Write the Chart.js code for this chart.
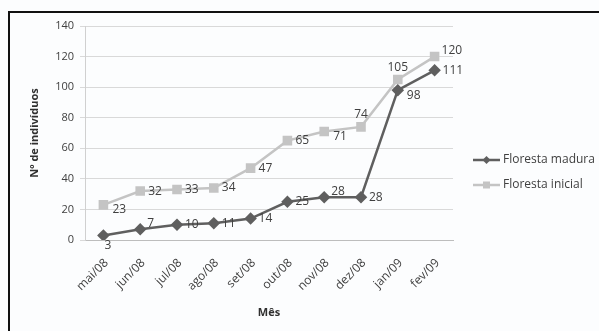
<!DOCTYPE html>
<html>
<head>
<meta charset="utf-8">
<script src="https://cdn.jsdelivr.net/npm/chart.js@4/dist/chart.umd.min.js"></script>
<style>
  html, body { margin: 0; padding: 0; background: #fcfdfe; }
  #wrap { position: relative; width: 599px; height: 331px; overflow: hidden; }
  #frame { position: absolute; left: 8px; top: 11px; width: 700px; height: 400px;
           border-top: 2px solid #111; border-left: 2px solid #111; box-sizing: border-box; }
  canvas { position: absolute; left: 0; top: 0; }
</style>
</head>
<body>
<div id="wrap">
  <div id="frame"></div>
  <canvas id="c" width="599" height="331"></canvas>
</div>
<script>
// Monthly counts of individuals per forest type
const months = ['mai/08', 'jun/08', 'jul/08', 'ago/08', 'set/08', 'out/08', 'nov/08', 'dez/08', 'jan/09', 'fev/09'];
const florestaMadura = [3, 7, 10, 11, 14, 25, 28, 28, 98, 111];
const florestaInicial = [23, 32, 33, 34, 47, 65, 71, 74, 105, 120];
const yTicks = [0, 20, 40, 60, 80, 100, 120, 140];

// where each value label sits relative to its marker
const maduraLabelPos = ['below', 'rightUp', 'right', 'right', 'right', 'right', 'rightUp', 'right', 'rightDown', 'right'];
const inicialLabelPos = ['rightDown', 'right', 'right', 'right', 'right', 'right', 'rightDown', 'above', 'above', 'rightUp'];

const FONT = '"Open Sans", "Liberation Sans", sans-serif';

const valueLabels = {
  id: 'valueLabels',
  afterDatasetsDraw(chart) {
    const ctx = chart.ctx;
    ctx.save();
    ctx.font = '12px ' + FONT;
    ctx.fillStyle = '#404040';
    chart.data.datasets.forEach((ds, i) => {
      const meta = chart.getDatasetMeta(i);
      meta.data.forEach((pt, j) => {
        const pos = ds.labelPos[j];
        let x = pt.x, y = pt.y;
        ctx.textAlign = 'left';
        ctx.textBaseline = 'middle';
        if (pos === 'right') { x += 8; }
        else if (pos === 'rightUp') { x += 7; y -= 6; }
        else if (pos === 'rightDown') { x += 9; y += 5; }
        else if (pos === 'above') { ctx.textAlign = 'center'; y -= 12; }
        else if (pos === 'below') { ctx.textAlign = 'left'; x += 1; y += 10; }
        ctx.fillText(String(ds.data[j]), x, y);
      });
    });
    ctx.restore();
  }
};

const sideLegend = {
  id: 'sideLegend',
  afterDraw(chart) {
    const ctx = chart.ctx;
    ctx.save();
    ctx.font = '12px ' + FONT;
    ctx.fillStyle = '#404040';
    ctx.textBaseline = 'middle';
    const rows = [160, 185];
    chart.data.datasets.forEach((ds, i) => {
      const y = rows[i];
      const x0 = 473, x1 = 500;
      ctx.strokeStyle = ds.borderColor;
      ctx.lineWidth = ds.borderWidth;
      ctx.beginPath(); ctx.moveTo(x0, y); ctx.lineTo(x1, y); ctx.stroke();
      ctx.fillStyle = ds.pointBackgroundColor;
      const cx = (x0 + x1) / 2;
      if (ds.pointStyle === 'rectRot') {
        ctx.beginPath();
        ctx.moveTo(cx, y - 4); ctx.lineTo(cx + 4, y); ctx.lineTo(cx, y + 4); ctx.lineTo(cx - 4, y);
        ctx.closePath(); ctx.fill();
      } else {
        ctx.fillRect(cx - 3.5, y - 3.5, 7, 7);
      }
      ctx.fillStyle = '#404040';
      ctx.textAlign = 'left';
      ctx.fillText(ds.label, 503, y);
    });
    ctx.restore();
  }
};

new Chart(document.getElementById('c'), {
  type: 'line',
  data: {
    labels: months,
    datasets: [
      {
        label: 'Floresta madura',
        data: florestaMadura,
        labelPos: maduraLabelPos,
        borderColor: '#5f5f5f',
        backgroundColor: '#5f5f5f',
        pointBackgroundColor: '#5f5f5f',
        pointBorderColor: '#5f5f5f',
        borderWidth: 2.5,
        pointStyle: 'rectRot',
        pointRadius: 4.5,
        tension: 0
      },
      {
        label: 'Floresta inicial',
        data: florestaInicial,
        labelPos: inicialLabelPos,
        borderColor: '#c4c4c4',
        backgroundColor: '#c4c4c4',
        pointBackgroundColor: '#c4c4c4',
        pointBorderColor: '#c4c4c4',
        borderWidth: 2.5,
        pointStyle: 'rect',
        pointRadius: 5,
        tension: 0
      }
    ]
  },
  options: {
    responsive: false,
    animation: false,
    layout: { padding: { left: 28, right: 146, top: 26, bottom: 12 } },
    plugins: { legend: { display: false }, tooltip: { enabled: false } },
    scales: {
      x: {
        offset: true,
        grid: { display: false, drawTicks: true, tickLength: 4 },
        border: { color: '#bdbdbd', width: 1 },
        ticks: { minRotation: 45, maxRotation: 45, color: '#404040', font: { family: FONT, size: 12 }, padding: 12, labelOffset: 3 },
        title: { display: true, text: 'Mês', color: '#303030', font: { family: FONT, size: 11, weight: 'bold' }, padding: { top: 8, bottom: 0 } },
        afterFit(scale) { scale.height = 79; }
      },
      y: {
        min: 0, max: 140,
        afterBuildTicks(scale) { scale.ticks = yTicks.map(v => ({ value: v })); },
        grid: { color: '#d9d9d9', lineWidth: 1, tickLength: 5 },
        border: { color: '#d0d0d0', width: 1 },
        ticks: { color: '#404040', font: { family: FONT, size: 11 }, padding: 6 },
        title: { display: true, text: 'Nº de indivíduos', color: '#303030', font: { family: FONT, size: 11, weight: 'bold' }, padding: { top: 0, bottom: 6 } },
        afterFit(scale) { scale.width = 57; }
      }
    }
  },
  plugins: [valueLabels, sideLegend]
});
</script>
</body>
</html>
